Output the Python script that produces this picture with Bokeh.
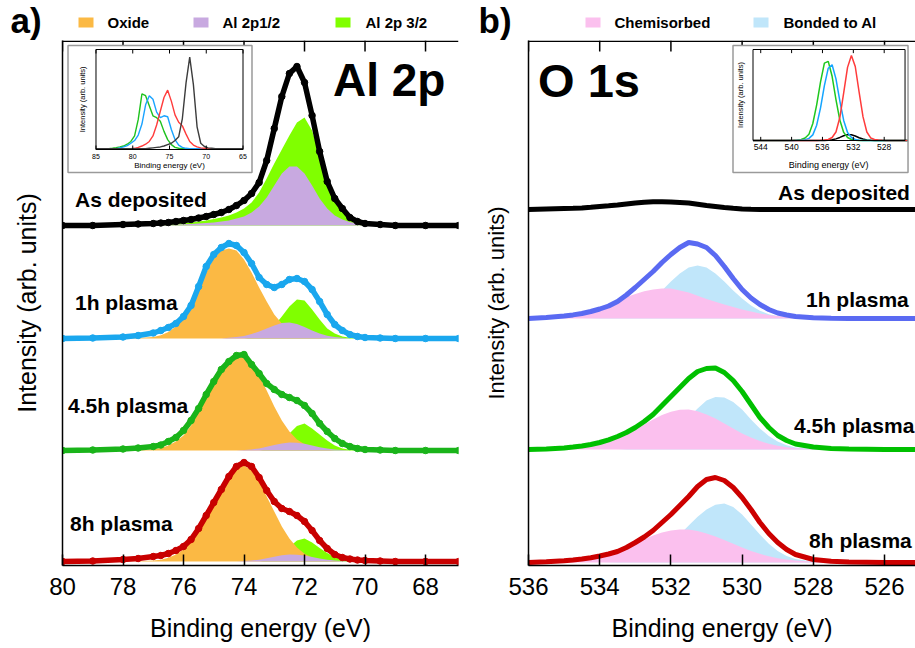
import numpy as np
from bokeh.plotting import figure
from bokeh.models import Range1d, FixedTicker
from bokeh.layouts import row, column
from bokeh.embed import file_html
from bokeh.resources import INLINE
from bokeh.core.properties import value

FONT = "Liberation Sans"

# ---------------- Panel a : Al 2p ----------------
E_AL = [80, 79, 78, 77.5, 77, 76.75, 76.5, 76.25, 76, 75.75, 75.5, 75.25, 75, 74.75, 74.5, 74.25,
        74, 73.75, 73.5, 73.25, 73, 72.75, 72.5, 72.25, 72, 71.75, 71.5, 71.25, 71, 70.75, 70.5,
        70.25, 70, 69.5, 69, 68, 66.9]
AL_TICKS = [80, 78, 76, 74, 72, 70, 68]
SAMPLES = ["As deposited", "1h plasma", "4.5h plasma", "8h plasma"]
AL_OFFSETS = [3.40, 2.27, 1.15, 0.04]
AL_COLORS = ["#000000", "#1AA7EE", "#1AB41A", "#C80000"]

AL_ASDEP = [0.0, 0.0, 0.01, 0.015, 0.02, 0.025, 0.03, 0.04, 0.05, 0.06, 0.075, 0.09, 0.11, 0.13, 0.16,
            0.20, 0.25, 0.32, 0.43, 0.65, 0.97, 1.29, 1.52, 1.59, 1.43, 1.10, 0.74, 0.44, 0.27, 0.17,
            0.08, 0.04, 0.02, 0.01, 0.0, 0.0, 0.0]
AL_1H = [0.0, 0.005, 0.015, 0.03, 0.055, 0.08, 0.11, 0.15, 0.22, 0.33, 0.52, 0.72, 0.84, 0.91, 0.95,
         0.93, 0.86, 0.75, 0.61, 0.54, 0.51, 0.54, 0.59, 0.60, 0.57, 0.49, 0.37, 0.24, 0.14, 0.08,
         0.04, 0.02, 0.01, 0.005, 0.0, 0.0, 0.0]
AL_45H = [0.0, 0.005, 0.015, 0.025, 0.04, 0.055, 0.09, 0.13, 0.20, 0.30, 0.42, 0.56, 0.69, 0.81, 0.89,
          0.95, 0.96, 0.86, 0.77, 0.67, 0.61, 0.56, 0.53, 0.50, 0.45, 0.37, 0.27, 0.19, 0.12, 0.07,
          0.04, 0.02, 0.01, 0.005, 0.0, 0.0, 0.0]
AL_8H = [0.0, 0.005, 0.02, 0.03, 0.05, 0.06, 0.08, 0.11, 0.15, 0.22, 0.33, 0.46, 0.59, 0.72, 0.85,
         0.95, 0.99, 0.95, 0.84, 0.71, 0.60, 0.53, 0.50, 0.46, 0.40, 0.31, 0.21, 0.13, 0.07, 0.04,
         0.025, 0.015, 0.01, 0.005, 0.0, 0.0, 0.0]

# fitted components (Oxide, Al 2p1/2, Al 2p 3/2)
AL_ASDEP_OX = None
AL_ASDEP_P12 = [0, 0, 0, 0, 0.005, 0.006, 0.008, 0.01, 0.012, 0.015, 0.02, 0.025, 0.03, 0.04, 0.05,
                0.07, 0.09, 0.13, 0.19, 0.28, 0.40, 0.52, 0.59, 0.59, 0.52, 0.40, 0.27, 0.17, 0.10,
                0.06, 0.035, 0.02, 0.01, 0.005, 0, 0, 0]
AL_ASDEP_P32 = [0, 0, 0, 0.005, 0.01, 0.012, 0.015, 0.02, 0.025, 0.03, 0.04, 0.05, 0.065, 0.08, 0.10,
                0.13, 0.17, 0.23, 0.33, 0.47, 0.62, 0.76, 0.90, 1.03, 1.08, 0.95, 0.70, 0.43, 0.26,
                0.15, 0.07, 0.03, 0.015, 0.005, 0, 0, 0]
AL_1H_OX = [0, 0, 0, 0.004, 0.015, 0.033, 0.064, 0.12, 0.20, 0.31, 0.48, 0.66, 0.80, 0.88, 0.90,
            0.88, 0.79, 0.66, 0.51, 0.37, 0.24, 0.15, 0.08, 0.043, 0.021, 0.01, 0.004, 0, 0, 0,
            0, 0, 0, 0, 0, 0, 0]
AL_1H_P12 = [0] * 14 + [0.007, 0.014, 0.026, 0.045, 0.07, 0.10, 0.13, 0.155, 0.16, 0.145, 0.115,
                        0.08, 0.05, 0.028, 0.014, 0.007] + [0] * 7
AL_1H_P32 = [0] * 17 + [0.01, 0.025, 0.06, 0.13, 0.22, 0.32, 0.39, 0.38, 0.29, 0.19, 0.10, 0.05,
                        0.02, 0.008] + [0] * 6
AL_45H_OX = [0, 0, 0, 0.003, 0.013, 0.026, 0.05, 0.09, 0.15, 0.25, 0.39, 0.52, 0.66, 0.78, 0.88,
             0.95, 0.94, 0.85, 0.75, 0.60, 0.44, 0.30, 0.19, 0.11, 0.063, 0.03, 0.015, 0.007, 0, 0,
             0, 0, 0, 0, 0, 0, 0]
AL_45H_P12 = [0] * 16 + [0.005, 0.011, 0.021, 0.037, 0.054, 0.071, 0.079, 0.078, 0.068, 0.051,
                         0.033, 0.019, 0.01, 0.004] + [0] * 7
AL_45H_P32 = [0] * 19 + [0.01, 0.034, 0.088, 0.17, 0.245, 0.27, 0.22, 0.16, 0.10, 0.05, 0.02,
                         0.008] + [0] * 6
AL_8H_OX = [0, 0, 0, 0.002, 0.009, 0.018, 0.037, 0.07, 0.12, 0.20, 0.31, 0.44, 0.59, 0.72, 0.84,
            0.93, 0.96, 0.91, 0.80, 0.65, 0.50, 0.35, 0.23, 0.14, 0.077, 0.04, 0.02, 0.009, 0.004,
            0, 0, 0, 0, 0, 0, 0, 0]
AL_8H_P12 = [0] * 16 + [0.004, 0.01, 0.018, 0.032, 0.047, 0.062, 0.069, 0.068, 0.06, 0.045,
                        0.029, 0.017, 0.009, 0.004] + [0] * 7
AL_8H_P32 = [0] * 19 + [0.009, 0.029, 0.075, 0.145, 0.21, 0.23, 0.19, 0.135, 0.085, 0.043, 0.017,
                        0.006] + [0] * 6

AL_SPECTRA = [AL_ASDEP, AL_1H, AL_45H, AL_8H]
AL_OX = [AL_ASDEP_OX, AL_1H_OX, AL_45H_OX, AL_8H_OX]
AL_P12 = [AL_ASDEP_P12, AL_1H_P12, AL_45H_P12, AL_8H_P12]
AL_P32 = [AL_ASDEP_P32, AL_1H_P32, AL_45H_P32, AL_8H_P32]

# inset a (normalised)
IA_E = [85, 84.75, 84.25, 83.75, 83.25, 82.75, 82.25, 81.75, 81.25, 80.75, 80.25, 79.75, 79.25, 78.75,
        78.25, 77.75, 77.25, 76.75, 76.25, 75.75, 75.25, 74.75, 74.25, 73.75, 73.25, 72.75, 72.25,
        71.75, 71.25, 70.75, 70.25, 69.75, 69.25, 68.75, 68.25, 67.75, 67.25, 66.75, 66.25, 65.75,
        65.25, 65]
IA_TICKS = [85, 80, 75, 70, 65]
IA_ASDEP = [0] * 15 + [0.005, 0.01, 0.015, 0.02, 0.03, 0.045, 0.06, 0.09, 0.13, 0.33, 0.72, 1.0, 0.70,
                       0.24, 0.06, 0.025, 0.01, 0.005] + [0] * 9
IA_8H = [0] * 11 + [0.005, 0.015, 0.03, 0.05, 0.08, 0.14, 0.26, 0.41, 0.56, 0.64, 0.52, 0.37, 0.29,
                    0.25, 0.16, 0.08, 0.04, 0.02, 0.01, 0.005] + [0] * 11
IA_1H = [0] * 7 + [0.01, 0.02, 0.035, 0.06, 0.09, 0.15, 0.27, 0.48, 0.58, 0.54, 0.40, 0.34, 0.36, 0.35,
                   0.21, 0.10, 0.04, 0.015, 0.005] + [0] * 16
IA_45H = [0] * 5 + [0.005, 0.012, 0.02, 0.03, 0.05, 0.08, 0.14, 0.32, 0.60, 0.58, 0.47, 0.36, 0.34,
                    0.30, 0.19, 0.10, 0.045, 0.015, 0.006] + [0] * 18
IA_SERIES = [IA_45H, IA_1H, IA_8H, IA_ASDEP]
IA_COLORS = ["#1EC21E", "#1AA3FF", "#FF3B3B", "#3C3C3C"]

# ---------------- Panel b : O 1s ----------------
E_O = [536, 535.5, 535, 534.75, 534.5, 534.25, 534, 533.75, 533.5, 533.25, 533, 532.75, 532.5, 532.25,
       532, 531.75, 531.5, 531.25, 531, 530.75, 530.5, 530.25, 530, 529.75, 529.5, 529.25, 529,
       528.75, 528.5, 528, 527.5, 527, 526, 525]
O_TICKS = [536, 534, 532, 530, 528, 526]
O_OFFSETS = [3.56, 2.47, 1.16, 0.03]
O_COLORS = ["#000000", "#5A6AF2", "#00C000", "#CC0000"]

O_ASDEP = [0, 0.005, 0.01, 0.012, 0.015, 0.022, 0.03, 0.037, 0.045, 0.055, 0.065, 0.073, 0.078, 0.078,
           0.075, 0.07, 0.065, 0.053, 0.04, 0.03, 0.02, 0.012, 0.005, 0.002, 0, 0, 0, 0, 0, 0, 0, 0,
           0, 0]
O_1H = [0, 0.01, 0.025, 0.036, 0.05, 0.07, 0.095, 0.125, 0.17, 0.235, 0.31, 0.39, 0.47, 0.56, 0.64,
        0.71, 0.76, 0.745, 0.71, 0.63, 0.52, 0.40, 0.29, 0.205, 0.14, 0.09, 0.055, 0.035, 0.02, 0.008,
        0.003, 0, 0, 0]
O_45H = [0, 0.005, 0.015, 0.024, 0.035, 0.05, 0.07, 0.097, 0.13, 0.17, 0.22, 0.28, 0.35, 0.44, 0.53,
         0.62, 0.71, 0.78, 0.81, 0.815, 0.77, 0.69, 0.58, 0.45, 0.32, 0.22, 0.14, 0.09, 0.055, 0.025,
         0.01, 0.005, 0, 0]
O_8H = [0, 0.008, 0.018, 0.026, 0.035, 0.048, 0.065, 0.085, 0.11, 0.15, 0.20, 0.255, 0.32, 0.40, 0.48,
        0.57, 0.66, 0.76, 0.83, 0.85, 0.82, 0.75, 0.65, 0.53, 0.40, 0.29, 0.20, 0.13, 0.08, 0.03,
        0.012, 0.005, 0, 0]
O_1H_CHEM = [0.004, 0.01, 0.027, 0.041, 0.059, 0.082, 0.111, 0.143, 0.18, 0.214, 0.245, 0.273, 0.29,
             0.30, 0.30, 0.28, 0.26, 0.227, 0.195, 0.167, 0.14, 0.115, 0.09, 0.07, 0.05, 0.036, 0.025,
             0.017, 0.01, 0.003, 0, 0, 0, 0]
O_1H_AL = [0, 0, 0, 0, 0, 0.002, 0.005, 0.01, 0.022, 0.043, 0.077, 0.13, 0.20, 0.28, 0.37, 0.45, 0.51,
           0.53, 0.51, 0.45, 0.37, 0.28, 0.20, 0.13, 0.077, 0.043, 0.022, 0.01, 0.005, 0, 0, 0, 0, 0]
O_45H_CHEM = [0.001, 0.002, 0.007, 0.012, 0.02, 0.033, 0.052, 0.078, 0.11, 0.152, 0.20, 0.25, 0.30,
              0.344, 0.378, 0.397, 0.40, 0.383, 0.35, 0.31, 0.26, 0.21, 0.16, 0.12, 0.084, 0.057,
              0.037, 0.023, 0.013, 0.004, 0.001, 0, 0, 0]
O_45H_AL = [0, 0, 0, 0, 0, 0, 0, 0, 0, 0.005, 0.012, 0.025, 0.05, 0.09, 0.15, 0.23, 0.32, 0.41, 0.49,
            0.526, 0.52, 0.474, 0.40, 0.30, 0.21, 0.136, 0.08, 0.043, 0.02, 0.004, 0, 0, 0, 0]
O_8H_CHEM = [0.001, 0.005, 0.013, 0.02, 0.031, 0.047, 0.067, 0.092, 0.12, 0.157, 0.195, 0.233, 0.27,
             0.30, 0.32, 0.33, 0.33, 0.315, 0.29, 0.26, 0.225, 0.187, 0.15, 0.116, 0.087, 0.062,
             0.043, 0.029, 0.019, 0.007, 0.002, 0, 0, 0]
O_8H_AL = [0, 0, 0, 0, 0, 0, 0.001, 0.003, 0.006, 0.013, 0.026, 0.048, 0.08, 0.13, 0.20, 0.28, 0.37,
           0.457, 0.53, 0.578, 0.59, 0.555, 0.48, 0.38, 0.28, 0.187, 0.115, 0.065, 0.034, 0.007, 0,
           0, 0, 0]
O_SPECTRA = [O_ASDEP, O_1H, O_45H, O_8H]
O_CHEM = [None, O_1H_CHEM, O_45H_CHEM, O_8H_CHEM]
O_AL = [None, O_1H_AL, O_45H_AL, O_8H_AL]

IB_E = [545, 544.75, 544.25, 543.75, 543.25, 542.75, 542.25, 541.75, 541.25, 540.75, 540.25, 539.75,
        539.25, 538.75, 538.25, 537.75, 537.25, 536.75, 536.25, 535.75, 535.25, 534.75, 534.25,
        533.75, 533.25, 532.75, 532.25, 531.75, 531.25, 530.75, 530.25, 529.75, 529.25, 528.75,
        528.25, 527.75, 527.25, 526.75, 526.25, 525.75, 525.25, 525]
IB_TICKS = [544, 540, 536, 532, 528]
IB_8H = [0] * 18 + [0.002, 0.005, 0.012, 0.035, 0.10, 0.27, 0.56, 0.86, 1.0, 0.87, 0.57, 0.28, 0.10,
                    0.03, 0.012, 0.005, 0.002] + [0] * 7
IB_45H = [0] * 11 + [0.002, 0.005, 0.012, 0.03, 0.073, 0.20, 0.42, 0.69, 0.91, 0.93, 0.755, 0.48,
                     0.24, 0.095, 0.035, 0.012, 0.004, 0.001] + [0] * 13
IB_1H = [0] * 12 + [0.002, 0.004, 0.01, 0.025, 0.066, 0.18, 0.384, 0.646, 0.85, 0.89, 0.725, 0.466,
                    0.236, 0.094, 0.035, 0.012, 0.004, 0.001] + [0] * 12
IB_ASDEP = [0] * 20 + [0.003, 0.008, 0.019, 0.036, 0.056, 0.069, 0.067, 0.053, 0.033, 0.017, 0.007,
                       0.002] + [0] * 10
IB_SERIES = [IB_ASDEP, IB_45H, IB_1H, IB_8H]
IB_COLORS = ["#000000", "#1EC81E", "#14A5FF", "#FF3B3B"]

C_OXIDE = "#FBB944"
C_P12 = "#C8A9E0"
C_P32 = "#80FF00"
C_CHEM = "#FBC0EE"
C_BOND = "#C0E6FA"
LEGEND_A = ["Oxide", "Al 2p1/2", "Al 2p 3/2"]
LEGEND_A_COLORS = [C_OXIDE, C_P12, C_P32]
LEGEND_B = ["Chemisorbed", "Bonded to Al"]
LEGEND_B_COLORS = [C_CHEM, C_BOND]


def bare(p):
    p.xgrid.visible = False
    p.ygrid.visible = False
    p.outline_line_color = None
    p.background_fill_color = "white"
    p.border_fill_color = "white"


def style_axes(p, ticks, ylab_size, ylab_standoff):
    bare(p)
    xa = p.xaxis[0]
    xa.ticker = FixedTicker(ticks=ticks)
    xa.major_tick_in = 11
    xa.major_tick_out = 0
    xa.minor_tick_in = 0
    xa.minor_tick_out = 0
    xa.axis_line_width = 1.5
    xa.major_tick_line_width = 1.5
    xa.major_label_text_font = FONT
    xa.major_label_text_font_size = "24px"
    xa.major_label_text_color = "black"
    xa.major_label_standoff = 12
    xa.axis_label = "Binding energy (eV)"
    xa.axis_label_text_font = FONT
    xa.axis_label_text_font_style = "normal"
    xa.axis_label_text_font_size = "25px"
    xa.axis_label_text_color = "black"
    xa.axis_label_standoff = 16
    ya = p.yaxis[0]
    ya.ticker = FixedTicker(ticks=[])
    ya.major_tick_in = 0
    ya.major_tick_out = 0
    ya.minor_tick_in = 0
    ya.minor_tick_out = 0
    ya.axis_line_width = 1.5
    ya.major_label_standoff = 0
    ya.axis_label = "Intensity (arb. units)"
    ya.axis_label_text_font = FONT
    ya.axis_label_text_font_style = "normal"
    ya.axis_label_text_font_size = ylab_size
    ya.axis_label_text_color = "black"
    ya.axis_label_standoff = ylab_standoff
    # top frame line with inward ticks
    xr = p.x_range
    ytop = p.y_range.end
    p.segment(x0=[xr.start], y0=[ytop - 0.0075], x1=[xr.end], y1=[ytop - 0.0075],
              line_color="black", line_width=1.5)
    p.segment(x0=ticks, y0=ytop, x1=ticks, y1=ytop - 0.11, line_color="black", line_width=1.5)


def header(width, tag, tag_x, names, colors, box_x, text_x):
    h = figure(width=width, height=40, x_range=Range1d(0, width), y_range=Range1d(40, 0),
               min_border_left=0, min_border_right=0, min_border_top=0, min_border_bottom=0,
               x_axis_location=None, y_axis_location=None, title=None,
               output_backend="svg", toolbar_location=None)
    bare(h)
    h.text(x=[tag_x], y=[20], text=[tag], text_font=value(FONT), text_font_style="bold",
           text_font_size="35px", text_baseline="middle", text_align="left", text_color="black")
    h.quad(left=box_x, right=[b + 15 for b in box_x], top=17, bottom=27, fill_color=colors,
           line_color=None)
    h.text(x=text_x, y=22, text=names, text_font=value(FONT), text_font_style="bold",
           text_font_size="15px", text_baseline="middle", text_align="left", text_color="black")
    return h


def add_inset(p, E, series, colors, ticks, xsrc, ysrc, xtgt, ytgt, box, tick_fs, lab_fs,
              xlab_pos, ylab_pos, lw):
    p.quad(left=box[0], right=box[1], bottom=box[2], top=box[3], fill_color="white",
           line_color="#9a9a9a", line_width=1.5, level="overlay")
    s = p.subplot(x_source=Range1d(*xsrc), y_source=Range1d(*ysrc),
                  x_target=Range1d(*xtgt), y_target=Range1d(*ytgt))
    for ser, col in zip(series, colors):
        s.line(x=E, y=ser, line_color=col, line_width=lw, level="overlay")
    y0, y1 = ysrc
    span = y1 - y0
    s.quad(left=xsrc[0], right=xsrc[1], bottom=y0, top=y1, fill_color=None, line_color="black",
           line_width=1, level="overlay")
    s.segment(x0=ticks, y0=y0, x1=ticks, y1=y0 + 0.04 * span, line_color="black", line_width=1,
              level="overlay")
    s.segment(x0=ticks, y0=y1, x1=ticks, y1=y1 - 0.04 * span, line_color="black", line_width=1,
              level="overlay")
    s.text(x=ticks, y=y0 - 0.04 * span, text=[str(t) for t in ticks], text_font=value(FONT),
           text_font_size=tick_fs, text_align="center", text_baseline="top", text_color="black",
           level="overlay")
    s.text(x=[xlab_pos[0]], y=[xlab_pos[1]], text=["Binding energy (eV)"], text_font=value(FONT),
           text_font_size=lab_fs, text_align="center", text_baseline="top", text_color="black",
           level="overlay")
    s.text(x=[ylab_pos[0]], y=[ylab_pos[1]], text=["Intensity (arb. units)"], angle=np.pi / 2,
           text_font=value(FONT), text_font_size="7.5px", text_align="center",
           text_baseline="middle", text_color="black", level="overlay")


# ================= Panel a =================
pa = figure(width=470, height=608, x_range=Range1d(80, 66.91), y_range=Range1d(0, 5.25),
            min_border_left=62, min_border_right=12, min_border_top=0, min_border_bottom=83,
            title=None, output_backend="svg", toolbar_location=None)
style_axes(pa, AL_TICKS, "25px", 22)

for i in range(4):
    o = AL_OFFSETS[i]
    base = [o] * len(E_AL)
    pa.varea(x=E_AL, y1=base, y2=[o + v for v in AL_P32[i]], fill_color=C_P32)
    if AL_OX[i] is not None:
        pa.varea(x=E_AL, y1=base, y2=[o + v for v in AL_OX[i]], fill_color=C_OXIDE)
    pa.varea(x=E_AL, y1=base, y2=[o + v for v in AL_P12[i]], fill_color=C_P12)
    ys = [o + v for v in AL_SPECTRA[i]]
    pa.line(x=E_AL, y=ys, line_color=AL_COLORS[i], line_width=5.5)
    pa.scatter(x=E_AL, y=ys, size=6.5, fill_color=AL_COLORS[i], line_color=AL_COLORS[i])

AL_LABEL_POS = [(79.587, 3.66), (79.587, 2.633), (79.818, 1.60), (79.752, 0.417)]
for (lx, ly), name in zip(AL_LABEL_POS, SAMPLES):
    pa.text(x=[lx], y=[ly], text=[name], text_font=value(FONT), text_font_style="bold",
            text_font_size="21px", text_baseline="middle", text_align="left", text_color="black")
pa.text(x=[71.06], y=[4.855], text=["Al 2p"], text_font=value(FONT), text_font_style="bold",
        text_font_size="46px", text_baseline="middle", text_align="left", text_color="black")

add_inset(pa, IA_E, IA_SERIES, IA_COLORS, IA_TICKS, (85, 65), (-0.008, 1.084),
          (78.893, 74.033), (4.16, 5.16), (79.818, 73.736, 3.93, 5.20), "7px", "8px",
          (75, -0.13), (86.9, 0.54), 1.4)

# ================= Panel b =================
pb = figure(width=445, height=608, x_range=Range1d(536, 525.13), y_range=Range1d(0, 5.25),
            min_border_left=58, min_border_right=0, min_border_top=0, min_border_bottom=83,
            title=None, output_backend="svg", toolbar_location=None)
style_axes(pb, O_TICKS, "22px", 20)

for i in range(4):
    o = O_OFFSETS[i]
    base = [o] * len(E_O)
    if O_AL[i] is not None:
        pb.varea(x=E_O, y1=base, y2=[o + v for v in O_AL[i]], fill_color=C_BOND)
        pb.varea(x=E_O, y1=base, y2=[o + v for v in O_CHEM[i]], fill_color=C_CHEM)
    pb.line(x=E_O, y=[o + v for v in O_SPECTRA[i]], line_color=O_COLORS[i], line_width=5)

O_LABEL_POS = [(528.99, 3.733), (528.205, 2.662), (528.54, 1.40), (528.12, 0.247)]
for (lx, ly), name in zip(O_LABEL_POS, SAMPLES):
    pb.text(x=[lx], y=[ly], text=[name], text_font=value(FONT), text_font_style="bold",
            text_font_size="21px", text_baseline="middle", text_align="left", text_color="black")
pb.text(x=[535.73], y=[4.855], text=["O 1s"], text_font=value(FONT), text_font_style="bold",
        text_font_size="47px", text_baseline="middle", text_align="left", text_color="black")

add_inset(pb, IB_E, IB_SERIES, IB_COLORS, IB_TICKS, (545, 525.3), (0, 1.07),
          (529.694, 525.424), (4.25, 5.16), (530.256, 525.34, 3.93, 5.20), "8.5px", "9px",
          (535.2, -0.23), (546.6, 0.535), 1.5)

# ================= headers (panel tags + legends) =================
ha = header(470, "a)", 10, LEGEND_A, LEGEND_A_COLORS, [78, 193, 335], [107, 222, 365])
hb = header(445, "b)", 8, LEGEND_B, LEGEND_B_COLORS, [115, 283], [144, 313])

layout = column(row(ha, hb), row(pa, pb))
open("out.html", "w").write(file_html(layout, INLINE))
